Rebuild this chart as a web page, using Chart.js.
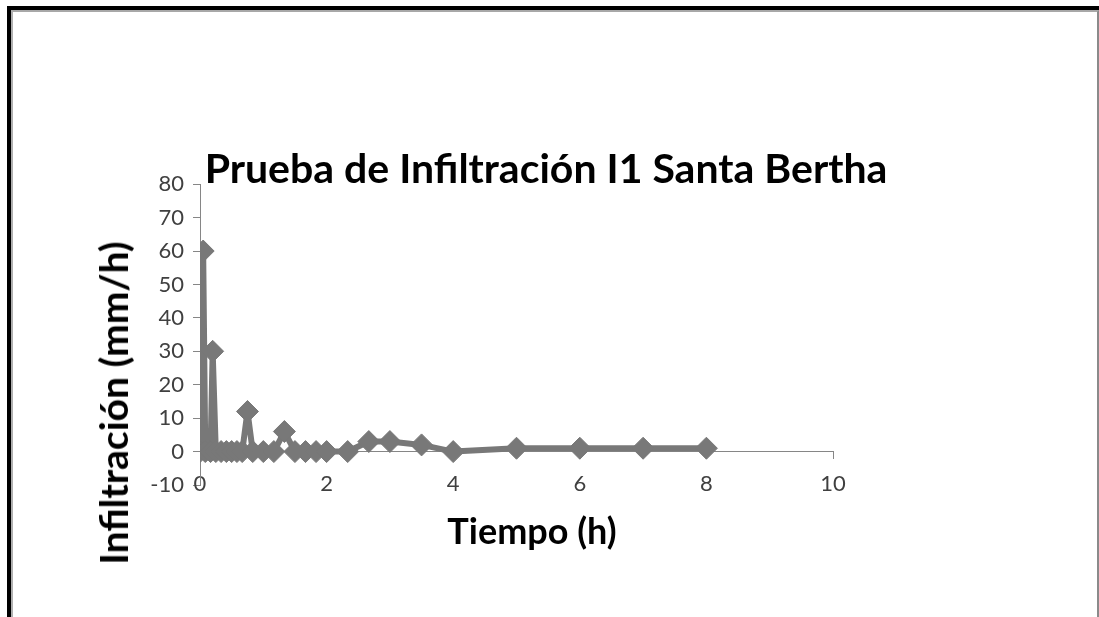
<!DOCTYPE html>
<html>
<head>
<meta charset="utf-8">
<script src="https://cdn.jsdelivr.net/npm/chart.js@4"></script>
<style>
  body { margin: 0; background: #fff; font-family: Lato, "Liberation Sans", sans-serif; }
  #wrap { position: relative; width: 1099px; height: 617px; overflow: hidden; }
  #frame { position: absolute; left: 7px; top: 6px; width: 1092px; height: 700px;
           border-top: 4px solid #000; border-left: 4px solid #000; box-sizing: border-box; }
  #frameInner { position: absolute; left: 0; top: 0; right: 0; bottom: 0;
                border-top: 2px solid #a8a8a8; border-left: 2px solid #b0b0b0; border-right: 2px solid #8a8a8a; }
  canvas { position: absolute; left: 0; top: 0; }
  .axisTitle { position: absolute; font-weight: bold; color: #000; white-space: nowrap; }
  #yTitle { left: 113px; top: 403px; font-size: 39px; transform: translate(-50%, -50%) rotate(-90deg); }
  #xTitle { left: 532px; top: 530px; font-size: 36px; transform: translate(-50%, -50%); }
</style>
</head>
<body>
<div id="wrap">
  <div id="frame"><div id="frameInner"></div></div>
  <canvas id="infilChart" width="1099" height="617"></canvas>
  <div class="axisTitle" id="yTitle">Infiltración (mm/h)</div>
  <div class="axisTitle" id="xTitle">Tiempo (h)</div>
</div>
<script>
// tiempo acumulado (h) y tasa de infiltración (mm/h)
const timeH = [0, 0.05, 0.0833, 0.1667, 0.2, 0.25, 0.3333, 0.4167, 0.5, 0.5833, 0.6667,
  0.75, 0.8333, 1.0, 1.1667, 1.3333, 1.5, 1.6667, 1.8333, 2.0, 2.3333, 2.6667,
  3.0, 3.5, 4.0, 5.0, 6.0, 7.0, 8.0];
const infil = [0, 60, 0, 0, 30, 0, 0, 0, 0, 0, 0,
  12, 0, 0, 0, 6, 0, 0, 0, 0, 0, 3,
  3, 2, 0, 1, 1, 1, 1];
const xTicks = [0, 2, 4, 6, 8, 10];
const yTicks = [-10, 0, 10, 20, 30, 40, 50, 60, 70, 80];

const seriesColor = "#787878";
const axisColor = "#868686";
const tickFont = { family: "Lato", size: 22 };

document.addEventListener("DOMContentLoaded", () => {
  const ctx = document.getElementById("infilChart");
  const points = timeH.map((t, i) => ({ x: t, y: infil[i] }));

  new Chart(ctx, {
    type: "scatter",
    data: {
      datasets: [{
        label: "Infiltración",
        data: points,
        showLine: true,
        tension: 0,
        borderColor: seriesColor,
        borderWidth: 6,
        borderJoinStyle: "round",
        backgroundColor: seriesColor,
        pointStyle: "rectRot",
        pointRadius: 11,
        pointHoverRadius: 11,
        pointBorderWidth: 1,
        pointBorderColor: seriesColor
      }]
    },
    options: {
      responsive: false,
      animation: false,
      layout: { padding: { left: 0, right: 7, top: 0, bottom: 132 } },
      plugins: {
        legend: { display: false },
        tooltip: { enabled: false },
        title: {
          display: true,
          text: "Prueba de Infiltración I1 Santa Bertha",
          color: "#000",
          font: { family: "Lato", size: 41, weight: "bold" },
          padding: { top: 145, bottom: -10 }
        }
      },
      scales: {
        x: {
          type: "linear",
          position: { y: 0 },
          min: xTicks[0],
          max: xTicks[xTicks.length - 1],
          afterBuildTicks: scale => { scale.ticks = xTicks.map(v => ({ value: v })); },
          ticks: { color: "#404040", font: tickFont, padding: 12 },
          grid: { drawOnChartArea: false, tickLength: 7, color: axisColor },
          border: { color: axisColor, width: 1 }
        },
        y: {
          type: "linear",
          position: "left",
          min: yTicks[0],
          max: yTicks[yTicks.length - 1],
          afterBuildTicks: scale => { scale.ticks = yTicks.map(v => ({ value: v })); },
          afterFit: scale => { scale.width = 200; },
          ticks: { color: "#404040", font: tickFont, padding: 9 },
          grid: { drawOnChartArea: false, tickLength: 7, color: axisColor },
          border: { color: axisColor, width: 1 }
        },
        // empty right-hand space so the title centres on the whole page
        spacer: {
          type: "linear",
          position: "right",
          min: 0,
          max: 1,
          afterFit: scale => { scale.width = 259; },
          ticks: { display: false },
          grid: { display: false },
          border: { display: false }
        }
      }
    }
  });
});
</script>
</body>
</html>
